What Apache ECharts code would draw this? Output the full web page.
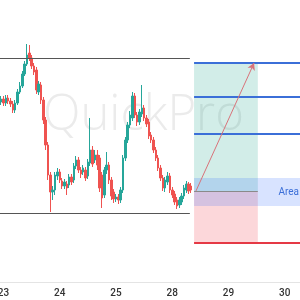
<!DOCTYPE html>
<html><head><meta charset="utf-8">
<script src="https://cdn.jsdelivr.net/npm/echarts@6/dist/echarts.min.js"></script>
<style>html,body{margin:0;padding:0;background:#fff}#c{width:300px;height:300px}</style>
</head><body><div id="c"></div>
<script>
// hourly slots; a day label every 24 slots
const slotCount = 128;
const dayLabels = ['23', '24', '25', '28', '29', '30'];
const dayStartSlots = [1, 25, 49, 73, 97, 121];

// candles: [open, close, low, high]
const candles = [
  [198,201,195,204],[201,197,194,204],[197,202,194,205],[202,199,196,205],[199,196,193,202],
  [196,190,187,199],[190,197,187,200],[197,208,195,211],[208,214,206,218],[214,226,212,229],
  [226,236,224,239],[236,245,234,256],[247,242,239,255],[242,234,231,245],[234,228,225,237],
  [230,210,206,233],[208,216,205,219],[215,200,196,218],[200,180,176,203],[180,155,150,183],
  [155,125,120,158],[125,108,88,128],[108,110,100,114],[110,125,105,128],[124,128,120,132],
  [128,120,117,131],[119,114,111,122],[114,118,111,121],[116,112,105,119],[115,123,112,126],
  [123,118,115,126],[120,134,117,137],[134,140,131,144],[140,130,127,143],[130,126,122,133],
  [128,132,125,135],[130,122,119,133],[124,138,121,141],[137,150,134,182],[150,136,133,154],
  [140,145,137,150],[145,135,130,150],[142,112,108,145],[125,102,92,128],[105,130,102,133],
  [130,135,126,148],[135,120,116,138],[120,104,100,123],[108,101,97,111],[101,103,98,106],
  [103,100,96,106],[100,110,97,113],[110,142,107,145],[142,160,139,163],[160,175,157,178],
  [175,185,172,189],[182,204,179,208],[204,185,182,207],[185,178,174,188],[178,188,175,191],
  [186,192,183,215],[192,182,179,195],[182,176,173,185],[178,164,161,181],[165,160,157,168],
  [160,150,147,163],[150,142,139,153],[142,132,129,145],[132,122,119,135],[122,112,109,125],
  [112,120,108,123],[118,124,115,128],[124,110,107,127],[110,105,102,113],[106,98,95,109],
  [100,94,91,103],[95,100,92,103],[98,104,95,107],[104,112,101,115],[110,116,107,119],
  [116,109,106,118],[114,110,107,117]
];

// price levels
const rangeHigh = 242;
const rangeLow = 87;
const targets = [237, 203, 166];
const entry = 109;
const stop = 57;
const zoneTop = 122;
const zoneBottom = 94;
const zoneLabel = 'Area';
const watermark = 'QuickPro';

const categories = Array.from({length: slotCount}, (_, i) => String(i));
const X0 = 82.8, X1 = 110, XEND = 128, XR = 81;

const chart = echarts.init(document.getElementById('c'), null, {renderer: 'canvas'});
chart.setOption({
  animation: false,
  backgroundColor: '#fff',
  grid: {left: 0, right: 0, top: 0, bottom: 18, outerBoundsMode: 'none', containLabel: false},
  graphic: [{
    type: 'text', x: 43, y: 116, z: -1, silent: true,
    style: {text: watermark, fill: '#ebebeb', font: '300 49px "Open Sans"', verticalAlign: 'middle', align: 'left'}
  }],
  xAxis: [{
    type: 'category', data: categories, boundaryGap: true,
    axisLine: {lineStyle: {color: '#e4e4e4'}},
    axisTick: {show: false},
    axisLabel: {
      interval: (i) => dayStartSlots.includes(i),
      formatter: (v, i) => dayLabels[dayStartSlots.indexOf(i)] || '',
      color: '#333', fontSize: 10, fontFamily: 'Roboto', fontWeight: 500, margin: 6
    },
    splitLine: {show: false}
  }, {
    type: 'value', min: 0, max: slotCount, show: false
  }],
  yAxis: [{type: 'value', min: 18, max: 300, show: false, splitLine: {show: false}}],
  series: [
    {
      type: 'line', xAxisIndex: 1, data: [], silent: true,
      markArea: {
        silent: true,
        data: [
          [{coord: [X0, entry], itemStyle: {color: 'rgba(8,153,129,0.18)'}}, {coord: [X1, targets[0]]}],
          [{coord: [X0, stop], itemStyle: {color: 'rgba(242,54,69,0.2)'}}, {coord: [X1, entry]}],
          [{coord: [X0, zoneBottom], itemStyle: {color: 'rgba(41,98,255,0.18)'},
            label: {show: true, formatter: zoneLabel, position: 'insideRight', distance: 1, color: '#3b6fd8', fontSize: 10, fontFamily: 'Roboto'}},
           {coord: [XEND, zoneTop]}]
        ]
      },
      markLine: {
        silent: true, symbol: 'none', label: {show: false},
        data: [
          [{coord: [0, rangeHigh], lineStyle: {color: '#555', width: 1, type: 'solid'}}, {coord: [XR, rangeHigh]}],
          [{coord: [0, rangeLow], lineStyle: {color: '#555', width: 1, type: 'solid'}}, {coord: [XR, rangeLow]}],
          [{coord: [X0, targets[0]], lineStyle: {color: '#3b6fd8', width: 2, type: 'solid'}}, {coord: [XEND, targets[0]]}],
          [{coord: [X0, targets[1]], lineStyle: {color: '#3b6fd8', width: 2, type: 'solid'}}, {coord: [XEND, targets[1]]}],
          [{coord: [X0, targets[2]], lineStyle: {color: '#3b6fd8', width: 2, type: 'solid'}}, {coord: [XEND, targets[2]]}],
          [{coord: [X0, entry], lineStyle: {color: '#8a8a8a', width: 1, type: 'solid'}}, {coord: [X1, entry]}],
          [{coord: [X0, stop], lineStyle: {color: '#e53945', width: 2, type: 'solid'}}, {coord: [XEND, stop]}]
        ]
      }
    },
    {
      type: 'line', xAxisIndex: 1, data: [], silent: true,
      markLine: {
        silent: true, symbol: ['none', 'arrow'], symbolSize: [6, 7], label: {show: false},
        data: [[{coord: [83.6, entry], lineStyle: {color: '#d9737a', width: 1, type: 'solid'}}, {coord: [108.4, targets[0]]}]]
      }
    },
    {
      type: 'candlestick', xAxisIndex: 0, data: candles, barWidth: 2,
      itemStyle: {color: '#26a69a', color0: '#ef5350', borderColor: '#26a69a', borderColor0: '#ef5350', borderWidth: 1}
    }
  ]
});
</script></body></html>
